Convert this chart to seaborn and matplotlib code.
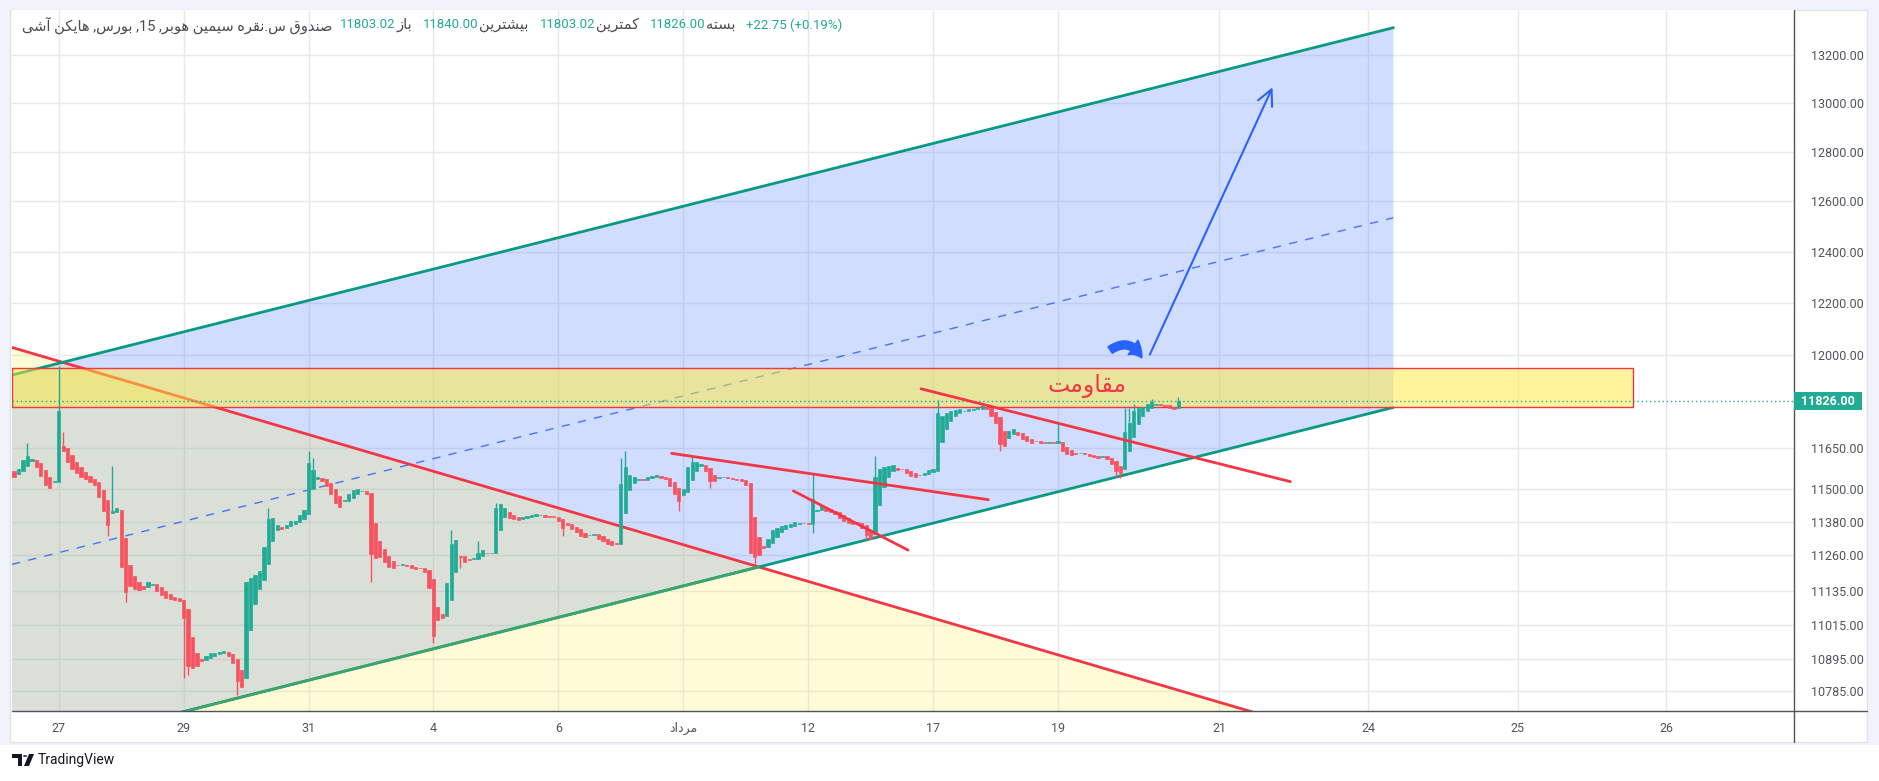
import matplotlib
matplotlib.use("Agg")
import matplotlib.pyplot as plt
import seaborn as sns
import pandas as pd
from matplotlib.patches import Rectangle, Polygon, Circle
from matplotlib.lines import Line2D
from matplotlib.ticker import NullLocator, NullFormatter

# ---- Heikin Ashi closes, 14 bars per session ----
first_open = 11565
day_a = [11545, 11575, 11605, 11622, 11612, 11580, 11548, 11515, 11505, 11528]
d27 = [11790, 11640, 11600, 11575, 11560, 11545, 11535, 11525, 11515, 11470, 11420, 11370, 11420, 11430]
d28 = [11220, 11130, 11150, 11140, 11138, 11142, 11165, 11158, 11135, 11120, 11110, 11105, 11102, 11098]
d29 = [11040, 10870, 10865, 10872, 10890, 10905, 10915, 10918, 10920, 10922, 10905, 10880, 10820, 10800]
d30 = [11165, 11180, 11190, 11205, 11290, 11390, 11395, 11370, 11355, 11370, 11385, 11385, 11405, 11425]
d31 = [11595, 11570, 11545, 11530, 11510, 11480, 11450, 11435, 11460, 11480, 11495, 11500, 11492, 11480]
dm1 = [11265, 11250, 11255, 11235, 11220, 11215, 11225, 11228, 11222, 11215, 11213, 11215, 11200, 11145]
d04 = [10975, 11030, 11040, 11160, 11300, 11315, 11255, 11235, 11245, 11250, 11270, 11280, 11268, 11270]
d05 = [11430, 11445, 11432, 11395, 11390, 11388, 11398, 11402, 11405, 11408, 11405, 11400, 11398, 11398]
d06 = [11385, 11360, 11368, 11355, 11345, 11330, 11325, 11335, 11338, 11320, 11310, 11302, 11298, 11300]
d07 = [11520, 11580, 11550, 11545, 11538, 11532, 11545, 11548, 11550, 11540, 11535, 11510, 11480, 11455]
d08 = [11500, 11580, 11598, 11600, 11590, 11565, 11530, 11528, 11545, 11545, 11540, 11535, 11532, 11530]
d09 = [11515, 11270, 11255, 11262, 11285, 11320, 11350, 11360, 11365, 11370, 11372, 11380, 11378, 11375]
d12 = [11372, 11465, 11425, 11440, 11420, 11415, 11410, 11395, 11385, 11375, 11372, 11378, 11360, 11335]
d14 = [11320, 11545, 11575, 11580, 11585, 11588, 11570, 11572, 11560, 11548, 11545, 11550, 11560, 11570]
d17 = [11572, 11780, 11770, 11780, 11790, 11792, 11795, 11790, 11795, 11797, 11800, 11808, 11795, 11770]
d18 = [11745, 11665, 11660, 11715, 11720, 11700, 11685, 11675, 11668, 11675, 11670, 11668, 11672, 11668]
d19 = [11675, 11640, 11630, 11625, 11628, 11632, 11628, 11622, 11618, 11615, 11622, 11610, 11590, 11565]
d20 = [11560, 11710, 11745, 11790, 11800, 11805, 11815, 11822, 11815, 11812, 11808, 11800, 11795, 11826]

hi_bars = [3, 10, 11, 12, 22, 57, 66, 67, 98, 104, 108, 136, 137, 152, 179, 193, 207, 217, 234, 249, 250, 251, 255, 261]
hi_vals = [11670, 11960, 11710, 11640, 11585, 11430, 11640, 11615, 11350, 11310, 11450, 11615, 11640, 11625,
           11555, 11620, 11830, 11820, 11740, 11800, 11800, 11815, 11835, 11840]
lo_bars = [21, 25, 38, 39, 50, 80, 94, 100, 123, 149, 156, 166, 179, 191, 221, 247, 248]
lo_vals = [11330, 11095, 10830, 10840, 10770, 11165, 10950, 11215, 11330, 11420, 11505, 11230, 11340, 11315,
           11640, 11545, 11540]

y_ticks = [10785, 10895, 11015, 11135, 11260, 11380, 11500, 11650, 12000, 12200, 12400, 12600, 12800, 13000, 13200]
x_ticks = [10, 38, 66, 94, 122, 150, 178, 206, 234, 270.2, 303.5, 337.1, 370.3]
x_labels = ['27', '29', '31', '4', '6', 'مرداد', '12', '17', '19', '21', '24', '25', '26']

# drawings (bar index, price)
chan_x = [-0.47, 309.2]
chan_top = [11924, 13315]
chan_mid = [11228, 12535]
chan_bot = [10569, 11802]
tri_x = [-0.47, 288.3]
tri_red = [12029, 10666]
green_x = [30, 166.9]
green_y = [10684, 11219]
band_x = [-0.47, 362.9]
band_y = [11803.02, 11950]
res_lines = [([147.4, 218.4], [11631, 11461]),
             ([174.7, 200.4], [11493, 11279]),
             ([203.3, 286.1], [11872, 11527])]
arrow_x = [254.6, 282.1]
arrow_y = [12002, 13065]
curve_x = [245.7, 252.8]
curve_y = [12019, 11989]
res_label = ('مقاومت', 240.5, 11882)

title_words = ['صندوق', 'س.نقره', 'سیمین', 'هوبر', '15', 'بورس', 'هایکن', 'آشی']
ohlc_names = ['باز', 'بیشترین', 'کمترین', 'بسته']
ohlc_vals = ['11803.02', '11840.00', '11803.02', '11826.00']
change_txt = '+22.75 (+0.19%)'
last_price = 11826.00

# ---- minimal Persian shaping (presentation forms, visual order) ----
FORMS = {
    'ا': ('\uFE8D', '\uFE8E', None, None), 'آ': ('\uFE81', '\uFE82', None, None),
    'ب': ('\uFE8F', '\uFE90', '\uFE91', '\uFE92'), 'ت': ('\uFE95', '\uFE96', '\uFE97', '\uFE98'),
    'د': ('\uFEA9', '\uFEAA', None, None), 'ر': ('\uFEAD', '\uFEAE', None, None),
    'ز': ('\uFEAF', '\uFEB0', None, None), 'س': ('\uFEB1', '\uFEB2', '\uFEB3', '\uFEB4'),
    'ش': ('\uFEB5', '\uFEB6', '\uFEB7', '\uFEB8'), 'ص': ('\uFEB9', '\uFEBA', '\uFEBB', '\uFEBC'),
    'ق': ('\uFED5', '\uFED6', '\uFED7', '\uFED8'), 'م': ('\uFEE1', '\uFEE2', '\uFEE3', '\uFEE4'),
    'ن': ('\uFEE5', '\uFEE6', '\uFEE7', '\uFEE8'), 'ه': ('\uFEE9', '\uFEEA', '\uFEEB', '\uFEEC'),
    'و': ('\uFEED', '\uFEEE', None, None), 'ی': ('\uFBFC', '\uFBFD', '\uFBFE', '\uFBFF'),
    'ک': ('\uFB8E', '\uFB8F', '\uFB90', '\uFB91'),
}


def shape(word):
    if not any(ch in FORMS for ch in word):
        return word
    out = []
    for i, ch in enumerate(word):
        f = FORMS.get(ch)
        if f is None:
            out.append(ch)
            continue
        prev = word[i - 1] if i > 0 else ''
        nxt = word[i + 1] if i + 1 < len(word) else ''
        jp = prev in FORMS and FORMS[prev][2] is not None
        jn = nxt in FORMS and f[2] is not None
        if jp and jn:
            out.append(f[3])
        elif jp:
            out.append(f[1])
        elif jn:
            out.append(f[2])
        else:
            out.append(f[0])
    return ''.join(reversed(out))


sns.set_theme(style="white")
plt.rcParams['font.family'] = ['Roboto', 'DejaVu Sans']

W, H = 1879, 781
fig = plt.figure(figsize=(W / 100, H / 100), dpi=100)
fig.patch.set_facecolor('white')
fig.add_artist(Rectangle((0, 1 - 745 / H), 1, 745 / H, transform=fig.transFigure,
                         fc='#F0F3FA', ec='none', zorder=-10))
fig.add_artist(Rectangle((10 / W, 1 - 742 / H), 1857 / W, 732 / H, transform=fig.transFigure,
                         fc='white', ec='#E0E3EB', lw=1, zorder=-9))

ax = fig.add_axes([12 / W, 70 / H, 1782 / W, 701 / H])
ax.set_facecolor('white')
ax.set_yscale('log')
ax.set_ylim(10717, 13390)
ax.set_xlim(-0.47, 399.0)

# candles
closes = day_a + d27 + d28 + d29 + d30 + d31 + dm1 + d04 + d05 + d06 + d07 + d08 + d09 + d12 + d14 + d17 + d18 + d19 + d20
opens = [first_open]
for c in closes[:-1]:
    opens.append((opens[-1] + c) / 2)  # Heikin Ashi open
df = pd.DataFrame({'i': range(len(closes)), 'o': opens, 'c': closes})
df['lo'] = df[['o', 'c']].min(axis=1)
df['hi'] = df[['o', 'c']].max(axis=1)
df['col'] = ['#22AB94' if c >= o else '#F7525F' for o, c in zip(df.o, df.c)]

# channel / triangle fills
ax.fill([chan_x[0], chan_x[1], chan_x[1], chan_x[0]], [chan_top[0], chan_top[1], chan_bot[1], chan_bot[0]],
        color=(41 / 255, 98 / 255, 1, 0.21), lw=0, zorder=1)
ax.fill([tri_x[0], tri_x[1], tri_x[1], tri_x[0]], [tri_red[0], tri_red[1], 10000, 10000],
        color=(1, 235 / 255, 59 / 255, 0.2), lw=0, zorder=1.1)

sns.lineplot(x=tri_x, y=tri_red, ax=ax, color='#F23645', lw=2, zorder=2)
sns.lineplot(x=chan_x, y=chan_top, ax=ax, color='#089981', lw=2, zorder=2)
sns.lineplot(x=chan_x, y=chan_bot, ax=ax, color='#089981', lw=2, zorder=2)
sns.lineplot(x=green_x, y=green_y, ax=ax, color='#3DA56B', lw=2, zorder=2.1)
ax.plot(chan_x, chan_mid, color='#2962FF', lw=1, ls=(0, (6, 6)), alpha=0.85, zorder=2)

# resistance band
ax.fill([band_x[0], band_x[1], band_x[1], band_x[0]], [band_y[0], band_y[0], band_y[1], band_y[1]],
        fc=(1, 235 / 255, 59 / 255, 0.5), ec='#F23645', lw=1, zorder=2.5)
ax.axhline(last_price, color='#22AB94', lw=1, ls=(0, (1, 2)), zorder=2.6)

ax.bar(df.i, df.hi - df.lo, bottom=df.lo, width=0.72, color=df.col, edgecolor=df.col, lw=0.5, zorder=3)
for b, v in zip(hi_bars, hi_vals):
    ax.vlines(b, df.hi[b], v, color=df.col[b], lw=1, zorder=3)
for b, v in zip(lo_bars, lo_vals):
    ax.vlines(b, v, df.lo[b], color=df.col[b], lw=1, zorder=3)

for xs, ys in res_lines:
    sns.lineplot(x=xs, y=ys, ax=ax, color='#F23645', lw=2, zorder=4)

ax.annotate('', xy=(arrow_x[1], arrow_y[1]), xytext=(arrow_x[0], arrow_y[0]),
            arrowprops=dict(arrowstyle='->,head_length=0.7,head_width=0.35', color='#2962FF', lw=1.5,
                            mutation_scale=16, shrinkA=0, shrinkB=0), zorder=5)
ax.annotate('', xy=(curve_x[1], curve_y[1]), xytext=(curve_x[0], curve_y[0]),
            arrowprops=dict(arrowstyle='simple,head_length=0.7,head_width=0.9,tail_width=0.4',
                            connectionstyle='arc3,rad=-0.55', fc='#2962FF', ec='#2962FF',
                            mutation_scale=14, shrinkA=0, shrinkB=0), zorder=5)
ax.text(res_label[1], res_label[2], shape(res_label[0]), color='#F23645', fontsize=17,
        ha='center', va='center', family=['DejaVu Sans'], zorder=5)

# axes
ax.yaxis.tick_right()
ax.set_yticks(y_ticks)
ax.set_yticklabels([f'{t:.2f}' for t in y_ticks])
ax.yaxis.set_minor_locator(NullLocator())
ax.yaxis.set_minor_formatter(NullFormatter())
ax.set_xticks(x_ticks)
ax.set_xticklabels([shape(s) for s in x_labels])
ax.tick_params(axis='y', length=0, pad=12, labelsize=9, labelcolor='#50535E')
ax.tick_params(axis='x', length=0, pad=8, labelsize=9, labelcolor='#50535E')
ax.grid(True, color='#E6E9EF', lw=1)
ax.set_axisbelow(True)
for s in ax.spines.values():
    s.set_visible(False)
fig.add_artist(Line2D([12 / W, 1867 / W], [70 / H, 70 / H], color='#50535E', lw=1, transform=fig.transFigure))
fig.add_artist(Line2D([1794 / W, 1794 / W], [1 - 10 / H, 1 - 742 / H], color='#50535E', lw=1,
                      transform=fig.transFigure))

# last price tag
py = ax.transData.transform((0, last_price))[1] / H
fig.add_artist(Rectangle((1794 / W, py - 9 / H), 68 / W, 18 / H, transform=fig.transFigure,
                         fc='#22AB94', ec='none', zorder=6))
fig.text(1828 / W, py, f'{last_price:.2f}', color='white', fontsize=9, weight='bold',
         ha='center', va='center', zorder=7)

# header legend: title, then value + label pairs, then change
title_vis = ' '.join([shape(title_words[7]), shape(title_words[6]), ',' + shape(title_words[5]),
                      ',' + title_words[4], ',' + shape(title_words[3]), shape(title_words[2]),
                      shape(title_words[1]), shape(title_words[0])])
pieces = [(title_vis, '#4A4D57', 10.5, 8)]
for name, val in zip(ohlc_names, ohlc_vals):
    pieces.append((val, '#22AB94', 9.5, 0.5))
    pieces.append((shape(name), '#4A4D57', 10.5, 11))
pieces.append((change_txt, '#22AB94', 9.5, 0))
renderer = fig.canvas.get_renderer()
x = 22
for s, col, size, gap in pieces:
    t = fig.text(x / W, 1 - 25 / H, s, color=col, fontsize=size, ha='left', va='center')
    x = t.get_window_extent(renderer).x1 + gap

# TradingView mark
fig.add_artist(Polygon([(12 / W, 1 - 754 / H), (22 / W, 1 - 754 / H), (22 / W, 1 - 766 / H),
                        (18 / W, 1 - 766 / H), (18 / W, 1 - 758 / H), (12 / W, 1 - 758 / H)],
                       closed=True, transform=fig.transFigure, fc='#131722', ec='none'))
fig.add_artist(Circle((25 / W, 1 - 756 / H), 2 / W, transform=fig.transFigure, fc='#131722', ec='none'))
fig.add_artist(Polygon([(29 / W, 1 - 754 / H), (34 / W, 1 - 754 / H), (29 / W, 1 - 766 / H),
                        (24 / W, 1 - 766 / H)], closed=True, transform=fig.transFigure,
                       fc='#131722', ec='none'))
fig.text(38 / W, 1 - 760 / H, 'TradingView', color='#131722', fontsize=10, ha='left', va='center')

fig.savefig('out.png', dpi=100)
